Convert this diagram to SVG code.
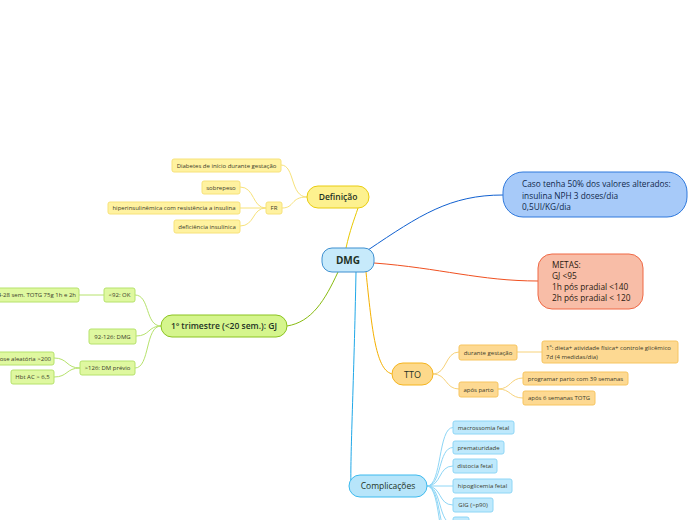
<svg xmlns="http://www.w3.org/2000/svg" width="696" height="520" viewBox="0 0 696 520">
<style>
text{font-family:"Open Sans","Noto Sans","DejaVu Sans",sans-serif;}
.c{fill:none;stroke-width:1;}
.ct{font-size:6px;fill:#3a3a2a;text-anchor:middle;}
.cl{font-size:6px;fill:#3a3a2a;}
.m{text-anchor:middle;fill:#1e3326;}
.y{fill:#fff2a0;stroke:#f7e27a;stroke-width:1;}
.g{fill:#dff8a0;stroke:#b6e26c;stroke-width:1;}
.o{fill:#fdd992;stroke:#f7c560;stroke-width:1;}
.b{fill:#bfe9fc;stroke:#8ed6f6;stroke-width:1;}
.bt{font-size:8.3px;fill:#10284a;font-weight:500;}
.rt{font-size:8.3px;fill:#2a1a10;font-weight:500;}
</style>
<rect width="696" height="520" fill="#ffffff"/>
<g id="connectors">
<path class="c" stroke="#e8c800" d="M346,248 C350,230 354,220 358,208"/>
<path class="c" stroke="#1060d0" d="M368,250 C420,215 450,195 503,195"/>
<path class="c" stroke="#f05020" d="M374,263 C440,268 480,281 538,281"/>
<path class="c" stroke="#f5b000" d="M366,272 C372,330 376,372 393,374"/>
<path class="c" stroke="#20a8e8" stroke-width="1.2" d="M356,272 C354,380 350,460 351,486"/>
<path class="c" stroke="#88bb10" stroke-width="1.2" d="M338,272 C325,300 312,322 287,326"/>
<g stroke="#f7e27a">
<path class="c" d="M307,197 C290,197 295,165 281,165"/>
<path class="c" d="M307,197 C290,197 295,208 282,208"/>
<path class="c" d="M266,208 C252,208 255,187 240,187"/>
<path class="c" d="M266,208 L240,208"/>
<path class="c" d="M266,208 C252,208 255,226 240,226"/>
</g>
<g stroke="#b6e26c">
<path class="c" d="M161,326 C145,326 150,295 135,295"/>
<path class="c" d="M161,326 C148,326 150,336 136,336"/>
<path class="c" d="M161,326 C145,326 150,368 135,368"/>
<path class="c" d="M104,295 L79,295"/>
<path class="c" d="M80,368 C66,368 68,358 54,358"/>
<path class="c" d="M80,368 C66,368 68,377 54,377"/>
</g>
<g stroke="#f7d27a">
<path class="c" d="M433,374 C447,374 445,352 459,352"/>
<path class="c" d="M433,374 C447,374 445,389 459,389"/>
<path class="c" d="M517,352 L542,352"/>
<path class="c" d="M498,389 C511,389 510,378 523,378"/>
<path class="c" d="M498,389 C511,389 510,398 523,398"/>
</g>
<g stroke="#8ed6f6">
<path class="c" d="M427,486 C442,486 438,427.5 453,427.5"/>
<path class="c" d="M427,486 C442,486 438,447.5 453,447.5"/>
<path class="c" d="M427,486 C442,486 438,466 453,466"/>
<path class="c" d="M427,486 L453,486"/>
<path class="c" d="M427,486 C442,486 438,505 453,505"/>
<path class="c" d="M427,486 C442,486 438,524 453,524"/>
<path class="c" d="M427,486 C442,486 438,543 453,543"/>
<path class="c" d="M427,486 C442,486 438,562 453,562"/>
</g>
</g>
<g id="dmg">
<rect x="322" y="248" width="52" height="24" rx="10" fill="#c7eafb" stroke="#3d8fd0" stroke-width="1"/>
<text class="m" x="348" y="264" font-size="10" font-weight="700" fill="#0d2a45">DMG</text>
</g>
<g id="definicao">
<rect x="307" y="186" width="62" height="22" rx="11" fill="#fdf18f" stroke="#e9cc10" stroke-width="1"/>
<text class="m" x="338" y="200" font-size="8.5" font-weight="600">Definição</text>
</g>
<g id="def-diabetes"><rect class="y" x="172" y="159" width="109" height="13" rx="2"/><text class="ct" x="226.5" y="167.8">Diabetes de início durante gestação</text></g>
<g id="def-fr"><rect class="y" x="266" y="202" width="16" height="12" rx="2"/><text class="ct" x="274" y="210.3">FR</text></g>
<g id="fr-sobrepeso"><rect class="y" x="202" y="181" width="38" height="13" rx="2"/><text class="ct" x="221" y="189.8">sobrepeso</text></g>
<g id="fr-hiper"><rect class="y" x="108" y="202" width="132" height="12" rx="2"/><text class="ct" x="174" y="210.3">hiperinsulinêmica com resistência a insulina</text></g>
<g id="fr-deficiencia"><rect class="y" x="174" y="220" width="66" height="13" rx="2"/><text class="ct" x="207" y="228.8">deficiência insulínica</text></g>
<g id="trimestre">
<rect x="161" y="315" width="126" height="22" rx="11" fill="#d5f58d" stroke="#8bc421" stroke-width="1"/>
<text class="m" x="224" y="329" font-size="8.5" font-weight="600">1º trimestre (&lt;20 sem.): GJ</text>
</g>
<g id="tri-ok"><rect class="g" x="104" y="288" width="31" height="14" rx="2"/><text class="ct" x="119.5" y="297.3">&lt;92: OK</text></g>
<g id="tri-totg"><rect class="g" x="-6" y="288" width="85" height="14" rx="2"/><text class="cl" x="76" y="297.3" text-anchor="end">24-28 sem. TOTG 75g 1h e 2h</text></g>
<g id="tri-dmg"><rect class="g" x="89" y="329" width="47" height="15" rx="2"/><text class="ct" x="112.5" y="338.8">92-126: DMG</text></g>
<g id="tri-previo"><rect class="g" x="80" y="361" width="55" height="14" rx="2"/><text class="ct" x="107.5" y="370.3">&gt;126: DM prévio</text></g>
<g id="tri-glicose"><rect class="g" x="-6" y="352" width="60" height="13" rx="2"/><text class="cl" x="51" y="360.8" text-anchor="end">glicose aleatória &gt;200</text></g>
<g id="tri-hbt"><rect class="g" x="11" y="370" width="43" height="14" rx="2"/><text class="ct" x="32.5" y="379.3">Hbt AC &gt; 6,5</text></g>
<g id="insulina">
<rect x="503" y="172" width="184" height="45" rx="20" fill="#a7caf9" stroke="#2e78dc" stroke-width="1"/>
<text class="bt" x="522" y="187">Caso tenha 50% dos valores alterados:</text>
<text class="bt" x="522" y="198.5">insulina NPH 3 doses/dia</text>
<text class="bt" x="522" y="210">0,5UI/KG/dia</text>
</g>
<g id="metas">
<rect x="538" y="254" width="105" height="55" rx="14" fill="#f8bda7" stroke="#ef6845" stroke-width="1"/>
<text class="rt" x="552" y="268">METAS:</text>
<text class="rt" x="552" y="279">GJ &lt;95</text>
<text class="rt" x="552" y="290">1h pós pradial &lt;140</text>
<text class="rt" x="552" y="301">2h pós pradial &lt; 120</text>
</g>
<g id="tto">
<rect x="392" y="363" width="41" height="22" rx="11" fill="#fdd98b" stroke="#f5b41e" stroke-width="1"/>
<text class="m" x="412.5" y="377.5" font-size="9" font-weight="500">TTO</text>
</g>
<g id="tto-durante"><rect class="o" x="459" y="345" width="58" height="15" rx="2"/><text class="ct" x="488" y="354.8">durante gestação</text></g>
<g id="tto-dieta"><rect class="o" x="542" y="341" width="136" height="22" rx="2"/><text class="cl" x="546" y="349.5" font-size="5.8">1º: dieta+ atividade física+ controle glicêmico</text><text class="cl" x="546" y="358.5" font-size="5.8">7d (4 medidas/dia)</text></g>
<g id="tto-apos"><rect class="o" x="459" y="382" width="39" height="15" rx="2"/><text class="ct" x="478.5" y="391.8">após parto</text></g>
<g id="tto-programar"><rect class="o" x="523" y="372" width="105" height="13" rx="2"/><text class="ct" x="575.5" y="380.8">programar parto com 39 semanas</text></g>
<g id="tto-totg"><rect class="o" x="523" y="391" width="72" height="14" rx="2"/><text class="ct" x="559" y="400.3">após 6 semanas TOTG</text></g>
<g id="complicacoes">
<rect x="349" y="475" width="78" height="22" rx="11" fill="#b7e5fa" stroke="#3dbaee" stroke-width="1"/>
<text class="m" x="388" y="489" font-size="8.5" font-weight="500">Complicações</text>
</g>
<g id="comp-macro"><rect class="b" x="453" y="421" width="61" height="13" rx="2"/><text class="ct" x="483.5" y="429.8">macrossomia fetal</text></g>
<g id="comp-prema"><rect class="b" x="453" y="441" width="51" height="13" rx="2"/><text class="ct" x="478.5" y="449.8">prematuridade</text></g>
<g id="comp-disto"><rect class="b" x="453" y="459" width="44" height="14" rx="2"/><text class="ct" x="475" y="468.3">distocia fetal</text></g>
<g id="comp-hipo"><rect class="b" x="453" y="479" width="59" height="14" rx="2"/><text class="ct" x="482.5" y="488.3">hipoglicemia fetal</text></g>
<g id="comp-gig"><rect class="b" x="453" y="498" width="40" height="14" rx="2"/><text class="ct" x="473" y="507.3">GIG (&gt;p90)</text></g>
<g id="comp-next"><rect class="b" x="453" y="517" width="16" height="14" rx="2"/></g>
</svg>
